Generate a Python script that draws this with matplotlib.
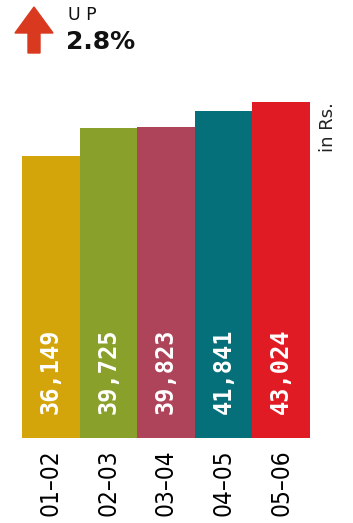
import matplotlib.pyplot as plt
from matplotlib.patches import Polygon

# Годы и значения (Rs.)
YEARS = ["01–02", "02–03", "03–04", "04–05", "05–06"]
VALUES = [36149, 39725, 39823, 41841, 43024]
COLORS = ["#D4A50B", "#89A12B", "#AD4459", "#06707A", "#E11B23"]

CHANGE_TEXT = "2.8%"

W, H = 353, 523
fig = plt.figure(figsize=(W / 100, H / 100), dpi=100)
fig.patch.set_facecolor("white")

# оси строго под столбцы
ax = fig.add_axes([22 / W, 1 - 438 / H, (310 - 22) / W, (438 - 102) / H])
x = range(len(VALUES))
ax.bar(x, VALUES, width=1.0, color=COLORS, linewidth=0)
ax.set_xlim(-0.5, len(VALUES) - 0.5)
ax.set_ylim(0, max(VALUES))
for s in ax.spines.values():
    s.set_visible(False)
ax.set_yticks([])
ax.set_xticks(list(x))
ax.set_xticklabels(YEARS, rotation=90, fontsize=17.5, fontstretch="condensed",
                   family="DejaVu Sans", va="top", ha="center")
ax.tick_params(axis="x", length=0, pad=8)

# значения внутри столбцов
for xi, v in zip(x, VALUES):
    ax.annotate(f"{v:,}", (xi, 0), xytext=(0, 17), textcoords="offset points",
                rotation=90, ha="center", va="bottom", color="white",
                fontsize=17, fontweight="bold", family="DejaVu Sans Mono")

fig.text(328 / W, 1 - 102 / H, "in Rs.", rotation=90, ha="center", va="top",
         fontsize=13, color="#222222")

# заголовок: стрелка и прирост
arrow = Polygon(
    [(15, 33), (34, 7), (53, 33), (40, 33), (40, 53), (28, 53), (28, 33)],
    closed=True, transform=None, color="#D93A1F")
arrow.set_xy([(px, H - py) for px, py in arrow.get_xy()])
fig.patches.append(arrow)

fig.text(68 / W, 1 - 20 / H, "U P", fontsize=12.5, color="#111111",
         ha="left", va="baseline")
fig.text(66 / W, 1 - 49 / H, CHANGE_TEXT, fontsize=18, fontweight="bold",
         color="#111111", ha="left", va="baseline")

fig.savefig("out.png", dpi=100)
